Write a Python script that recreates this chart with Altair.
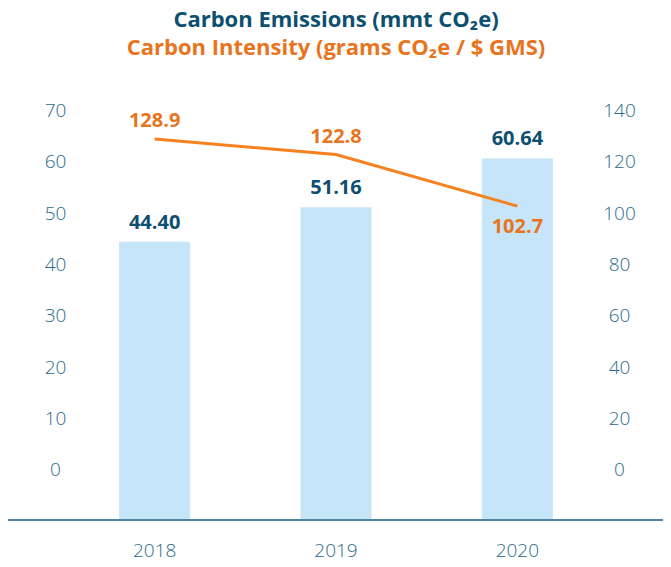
import altair as alt
import pandas as pd

years = ["2018", "2019", "2020"]
emissions = [44.40, 51.16, 60.64]
intensity = [128.9, 122.8, 102.7]
emission_labels = ["44.40", "51.16", "60.64"]
intensity_labels = ["128.9", "122.8", "102.7"]
intensity_label_side = ["above", "above", "below"]
left_ticks = [0, 10, 20, 30, 40, 50, 60, 70]
right_ticks = [0, 20, 40, 60, 80, 100, 120, 140]

df = pd.DataFrame({
    "year": years,
    "emissions": emissions,
    "intensity": intensity,
    "elabel": emission_labels,
    "ilabel": intensity_labels,
    "side": intensity_label_side,
})

W, H = 544, 425
LEFT_MIN, LEFT_MAX = -9.6, 73.2
FONT = "Open Sans"
AXIS_COLOR = "#2b6a8c"
DARK = "#0d4f70"
ORANGE = "#e8741e"
LINE_ORANGE = "#f5821f"
BAR = "#c6e5f8"

x = alt.X(
    "year:N",
    sort=years,
    scale=alt.Scale(paddingInner=0.6085, paddingOuter=0.304),
    axis=alt.Axis(
        title=None, labelAngle=0, domain=False, ticks=False, tickSize=0,
        labelFontSize=19, labelFontWeight=300, labelColor=AXIS_COLOR,
        labelFont=FONT, labelPadding=31, labelBaseline="middle",
    ),
)

left_scale = alt.Scale(domain=[LEFT_MIN, LEFT_MAX], nice=False, zero=False)
right_scale = alt.Scale(domain=[2 * LEFT_MIN, 2 * LEFT_MAX], nice=False, zero=False)

base = alt.Chart(df)

bars = base.mark_bar(color=BAR).encode(
    x=x,
    y=alt.Y(
        "emissions:Q",
        scale=left_scale,
        axis=alt.Axis(
            title=None, orient="left", values=left_ticks, domain=False,
            ticks=False, tickSize=0, grid=False, labelAlign="center",
            labelPadding=9, labelFontSize=19, labelFontWeight=300,
            labelColor=AXIS_COLOR, labelFont=FONT,
        ),
    ),
    y2=alt.datum(LEFT_MIN),
)

bar_labels = base.mark_text(
    font=FONT, fontSize=20, fontWeight="bold", color=DARK, dy=-19,
    baseline="middle",
).encode(x=x, y=alt.Y("emissions:Q", scale=left_scale), text="elabel:N")

baseline_rule = base.mark_rule(color="#4f86a6", strokeWidth=2).encode(
    x=alt.value(-56), x2=alt.value(W + 55), y=alt.value(H + 1)
)

left = alt.layer(bars, bar_labels, baseline_rule)

line = base.mark_line(color=LINE_ORANGE, strokeWidth=3).encode(
    x=x,
    y=alt.Y(
        "intensity:Q",
        scale=right_scale,
        axis=alt.Axis(
            title=None, orient="right", values=right_ticks, domain=False,
            ticks=False, tickSize=0, grid=False, labelAlign="center",
            labelPadding=11, labelFontSize=19, labelFontWeight=300,
            labelColor=AXIS_COLOR, labelFont=FONT,
        ),
    ),
)

line_labels_above = base.mark_text(
    font=FONT, fontSize=20, fontWeight="bold", color=ORANGE, dy=-18,
    baseline="middle",
).encode(
    x=x, y=alt.Y("intensity:Q", scale=right_scale), text="ilabel:N"
).transform_filter(alt.datum.side == "above")

line_labels_below = base.mark_text(
    font=FONT, fontSize=20, fontWeight="bold", color=ORANGE, dy=21,
    baseline="middle",
).encode(
    x=x, y=alt.Y("intensity:Q", scale=right_scale), text="ilabel:N"
).transform_filter(alt.datum.side == "below")

right = alt.layer(line, line_labels_above, line_labels_below)

chart = alt.layer(left, right).resolve_scale(y="independent").properties(
    width=W,
    height=H,
    background="white",
    autosize=alt.AutoSizeParams(type="none"),
    padding={"left": 56, "top": 86, "right": 55, "bottom": 42},
    title=alt.TitleParams(
        text="Carbon Emissions (mmt CO₂e)",
        subtitle="Carbon Intensity (grams CO₂e / $ GMS)",
        font=FONT, fontSize=22, fontWeight="bold", color=DARK,
        subtitleFont=FONT, subtitleFontSize=22, subtitleFontWeight="bold",
        subtitleColor=ORANGE, subtitlePadding=6, anchor="middle", offset=34,
    ),
).configure_view(strokeWidth=0, stroke="transparent")

chart.save("out.html", embed_options={"renderer": "svg", "actions": False})
